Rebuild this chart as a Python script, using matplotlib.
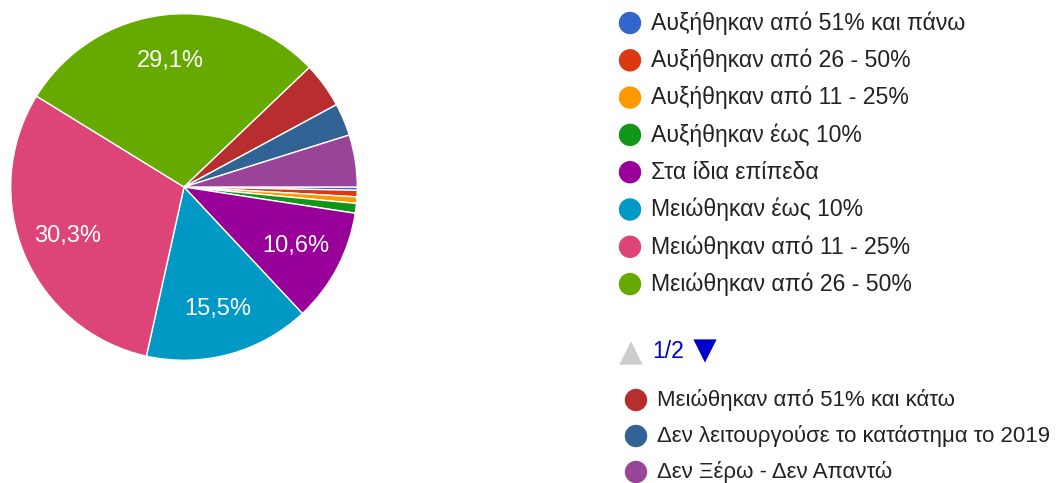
import matplotlib
matplotlib.use("Agg")
import matplotlib.pyplot as plt
import numpy as np

plt.rcParams['font.family'] = ['Liberation Sans', 'DejaVu Sans']

categories = [
    "Αυξήθηκαν από 51% και πάνω",
    "Αυξήθηκαν από 26 - 50%",
    "Αυξήθηκαν από 11 - 25%",
    "Αυξήθηκαν έως 10%",
    "Στα ίδια επίπεδα",
    "Μειώθηκαν έως 10%",
    "Μειώθηκαν από 11 - 25%",
    "Μειώθηκαν από 26 - 50%",
    "Μειώθηκαν από 51% και κάτω",
    "Δεν λειτουργούσε το κατάστημα το 2019",
    "Δεν Ξέρω - Δεν Απαντώ",
]
counts = [1, 2, 2, 3, 35, 51, 100, 96, 14, 10, 16]
colors = ["#3366cc", "#dc3912", "#ff9900", "#109618", "#990099", "#0099c6",
          "#dd4477", "#66aa00", "#b82e2e", "#316395", "#994499"]
page_label = "1/2"
page1 = list(range(8))
page2 = [8, 9, 10]

W, H = 1062, 483
fig = plt.figure(figsize=(W / 100, H / 100), dpi=100)

# pie axes
cx, cy, R = 184, 187, 175
ax = fig.add_axes([(cx - R) / W, (H - cy - R) / H, 2 * R / W, 2 * R / H])

def fmt(p):
    return (f"{p:.1f}%".replace(".", ",")) if p >= 10 else ""

wedges, texts, autotexts = ax.pie(
    counts, colors=colors, startangle=0, counterclock=False,
    radius=1, autopct=fmt, pctdistance=0.73,
    wedgeprops=dict(edgecolor="white", linewidth=1.0),
    textprops=dict(color="white", fontsize=17))
ax.set_xlim(-1.01, 1.01)
ax.set_ylim(-1.01, 1.01)
ax.set_aspect("equal")
ax.axis("off")

# legend overlay
lx = fig.add_axes([0, 0, 1, 1])
lx.set_xlim(0, W)
lx.set_ylim(H, 0)
lx.axis("off")

fs1 = 16.6
fs2 = 16.0
text_color = "#222222"
row0, step = 23, 37.3
for i, idx in enumerate(page1):
    y = row0 + i * step
    lx.scatter([630], [y], s=260, color=colors[idx], edgecolors="none")
    lx.text(651, y, categories[idx], fontsize=fs1, color=text_color, va="center", ha="left")

# pager
py = 352
lx.scatter([631], [py + 1], s=280, marker="^", color="#cccccc", edgecolors="none")
lx.text(652, py, page_label, fontsize=fs1, color="#0000cc", va="center", ha="left")
lx.scatter([705], [py - 1], s=280, marker="v", color="#0000cc", edgecolors="none")

row1 = 400
for i, idx in enumerate(page2):
    y = row1 + i * 36
    lx.scatter([636], [y], s=260, color=colors[idx], edgecolors="none")
    lx.text(657, y, categories[idx], fontsize=fs2, color=text_color, va="center", ha="left")

fig.savefig("out.png", dpi=100, facecolor="white")
